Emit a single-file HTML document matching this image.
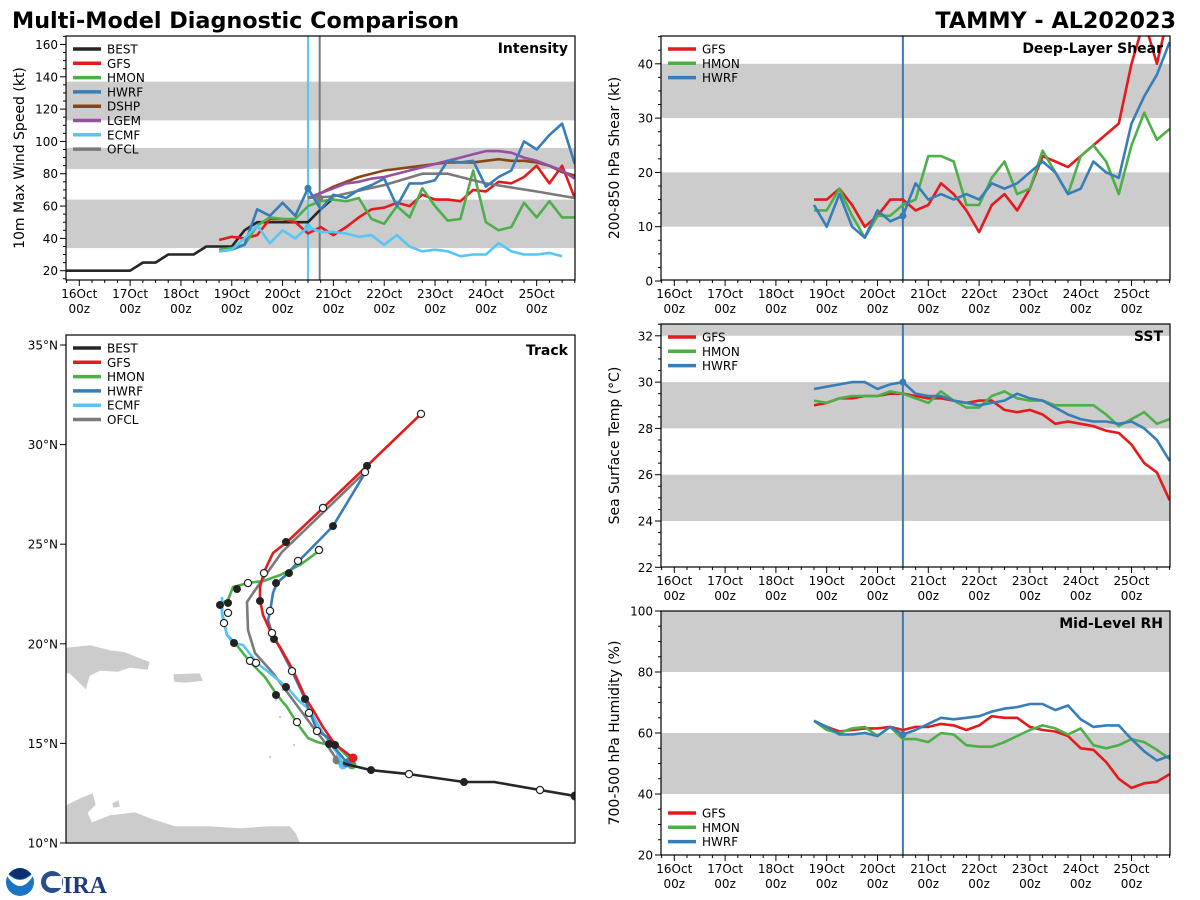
<!DOCTYPE html>
<html><head><meta charset="utf-8"><style>
html,body{margin:0;padding:0;background:#fff;}
svg{display:block;font-family:"DejaVu Sans","Liberation Sans",sans-serif;}
</style></head><body>
<svg id="fig" width="1200" height="900" viewBox="0 0 1200 900" xmlns="http://www.w3.org/2000/svg">
<text x="12" y="28" font-size="22.3" font-weight="bold">Multi-Model Diagnostic Comparison</text>
<text x="1176" y="28" font-size="22.3" font-weight="bold" text-anchor="end">TAMMY - AL202023</text>
<g>
<circle cx="20" cy="882" r="14" fill="#1a75c4"/>
<path d="M7,876 Q20,896 33,876 L33,873 Q20,887 7,873 Z" fill="#fff"/>
<path d="M9,874 Q20,862 31,874 Q20,884 9,874Z" fill="#0d2f6e"/>
<circle cx="52" cy="882" r="11" fill="#2a4f8a"/><circle cx="52" cy="882" r="6" fill="#fff"/><rect x="54" y="876" width="8" height="12" fill="#fff"/>
<text x="63" y="893" font-size="24" font-weight="bold" fill="#1d3a7a" font-family="Liberation Serif,serif">IRA</text>
</g>
</svg>
<script>
// ---------- data ----------
const intensityStart = 18.75, step = 0.25;
const bestStart = 15.75;
const bestVmax = [20,20,20,20,20,20,25,25,30,30,30,35,35,35,45,50,50,50,50,50,58,65];
const gfsVmax = [39,41,40,42,52,52,50,43,47,42,47,53,58,59,62,60,67,64,64,63,70,69,75,74,78,85,74,85,65];
const hmonVmax = [33,34,36,48,53,52,52,60,63,64,63,65,52,49,60,53,71,60,51,52,82,50,45,47,62,53,63,53,53];
const hwrfVmax = [32,33,36,58,54,62,54,71,58,67,65,70,73,77,60,74,74,76,88,87,88,72,78,82,100,95,104,111,86];
const ecmfVmax = [32,33,40,48,37,45,40,47,44,44,43,41,42,36,42,35,32,33,32,29,30,30,37,32,30,30,31,29];
const statStart = 20.5;
const dshpVmax = [65,68,72,75,78,80,82,83,84,85,86,87,87,87,88,89,88,88,87,85,81,79];
const lgemVmax = [65,68,71,74,75,77,78,80,82,84,86,88,90,92,94,94,93,90,88,85,82,77];
const ofclTimes = [20.5,21,22,22.75,23.25,24,25,25.75];
const ofclVmax = [65,66,73,80,80,74,69,65];

const gfsShear = [15,15,17,14,10,12,15,15,13,14,18,16,13,9,14,16,13,17,23,22,21,23,25,27,29,40,48,40,50];
const hmonShear = [13,13,17,12,8,12,12,14,15,23,23,22,14,14,19,22,16,17,24,20,16,23,25,22,16,25,31,26,28];
const hwrfShear = [14,10,16,10,8,13,11,12,18,15,16,15,16,15,18,17,18,20,22,20,16,17,22,20,19,29,34,38,44];

const gfsSst = [29.0,29.1,29.3,29.3,29.4,29.4,29.5,29.5,29.4,29.3,29.3,29.2,29.1,29.2,29.2,28.8,28.7,28.8,28.6,28.2,28.3,28.2,28.1,27.9,27.8,27.3,26.5,26.1,24.9];
const hmonSst = [29.2,29.1,29.3,29.4,29.4,29.4,29.6,29.5,29.3,29.1,29.6,29.2,28.9,28.9,29.4,29.6,29.3,29.2,29.2,29.0,29.0,29.0,29.0,28.6,28.1,28.4,28.7,28.2,28.4];
const hwrfSst = [29.7,29.8,29.9,30.0,30.0,29.7,29.9,30.0,29.5,29.4,29.4,29.2,29.1,29.0,29.1,29.2,29.5,29.3,29.2,28.9,28.6,28.4,28.3,28.3,28.2,28.3,28.0,27.5,26.6];

const gfsRh = [64,62,60.5,61,61.5,61.5,62,61,62,62,63,62.5,61,62.5,65.5,65,65,62,61,60.5,59,55,54.5,50.5,45,42,43.5,44,46.5];
const hmonRh = [64,61,60,61.5,62,59,62,58,58,57,60,59.5,56,55.5,55.5,57,59,61,62.5,61.5,59.5,61.5,56,55,56,58,57,54.5,51.5];
const hwrfRh = [64,62,59.5,59.5,60,59,62,59.5,61,63,65,64.5,65,65.5,67,68,68.5,69.5,69.5,67.5,69,64.5,62,62.5,62.5,58,54,51,52.5];

const bestLon = [-46.55,-48.3,-50.6,-52.1,-54.85,-56.75,-57.85,-58.15];
const bestLat = [12.36,12.66,13.06,13.06,13.46,13.66,13.92,14.02];
const gfsLon = [-57.65,-58.3,-58.7,-59.15,-59.65,-60.0,-60.65,-61.3,-61.6,-62.15,-62.3,-62.3,-62.1,-61.65,-60.95,-59.15,-56.95,-54.25];
const gfsLat = [14.27,14.77,15.17,15.82,16.68,17.23,18.68,19.84,20.24,21.45,22.2,22.85,23.6,24.56,25.11,26.82,28.93,31.54];
const hmonLon = [-57.7,-57.9,-58.4,-59.45,-59.9,-60.45,-60.95,-61.45,-62.05,-62.8,-63.55,-63.95,-64.2,-64.2,-63.9,-63.65,-62.9,-62.15,-61.3,-60.3,-59.35];
const hmonLat = [13.92,14.32,14.82,15.07,15.27,16.02,16.83,17.43,18.33,19.09,20.04,20.44,21.55,22.05,22.2,22.85,23.05,23.15,23.45,23.96,24.66];
const hwrfLon = [-57.95,-58.55,-58.95,-59.45,-59.8,-60.05,-60.7,-61.3,-61.7,-61.9,-61.8,-61.65,-61.45,-60.9,-60.4,-58.65,-57.95,-57.05];
const hwrfLat = [14.02,14.77,15.32,15.67,16.53,17.23,18.63,19.79,20.54,21.19,21.6,22.55,23.05,23.55,24.11,25.91,27.07,28.57];
const ecmfLon = [-58.15,-58.45,-59.15,-59.45,-59.8,-60.4,-60.95,-62.45,-63.15,-63.65,-63.95,-64.2,-64.2];
const ecmfLat = [13.92,14.52,15.52,16.02,16.68,17.18,17.83,19.04,19.94,20.04,20.44,21.45,22.35];
const ofclLon = [-58.45,-58.95,-59.65,-60.65,-61.65,-62.55,-62.9,-62.95,-62.3,-61.2,-57.05];
const ofclLat = [14.17,14.92,15.82,17.18,18.53,19.54,20.69,22.1,23.05,24.61,28.62];
const filledLon = [-56.95,-58.65,-61.0,-60.85,-61.5,-62.3,-63.45,-64.3,-63.9,-63.6,-61.6,-61.0,-61.5,-60.05,-58.85,-58.55,-52.1,-56.75];
const filledLat = [28.93,25.91,25.11,23.55,23.05,22.15,22.75,21.95,22.05,20.04,20.24,17.83,17.43,17.23,14.97,14.92,13.06,13.66];
const openLon = [-54.25,-57.05,-59.15,-59.35,-60.4,-62.1,-62.9,-61.8,-63.9,-64.1,-61.7,-60.7,-62.8,-62.5,-59.85,-60.45,-59.45,-54.85,-48.3];
const openLat = [31.54,28.62,26.82,24.71,24.16,23.55,23.05,21.65,21.55,21.04,20.54,18.63,19.14,19.04,16.53,16.07,15.62,13.46,12.66];
const latTicks = [35,30,25,20,15,10];
const dayLabels = ['16Oct','17Oct','18Oct','19Oct','20Oct','21Oct','22Oct','23Oct','24Oct','25Oct'];

// ---------- drawing ----------
const NS='http://www.w3.org/2000/svg';
const svg=document.getElementById('fig');
function el(tag,attrs,parent){const e=document.createElementNS(NS,tag);for(const k in attrs)e.setAttribute(k,attrs[k]);(parent||svg).appendChild(e);return e;}
const C={best:'#262626',gfs:'#e41a1c',hmon:'#4daf4a',hwrf:'#377eb8',dshp:'#8b4513',lgem:'#984ea3',ecmf:'#56c5f7',ofcl:'#7a7a7a'};
let clipN=0;

function makePanel(name,L,T,R,B,x16,dayW,yOf,vTop,vBot,bands,major,minor,ylabel,title){
  const g=el('g',{});
  
  
  const id='clip'+(clipN++);
  const cp=el('clipPath',{id:id},g);el('rect',{x:L,y:T,width:R-L,height:B-T},cp);
  const inner=el('g',{'clip-path':'url(#'+id+')'},g);
  bands.forEach(b=>{const r=el('rect',{x:L,y:yOf(b[1]),width:R-L,height:yOf(b[0])-yOf(b[1]),fill:'#cccccc'},inner);
    
    });
  const xOf=d=>x16+(d-16)*dayW;
  el('rect',{x:L,y:T,width:R-L,height:B-T,fill:'none',stroke:'#000','stroke-width':1.2},g);
  for(let d=15.75;d<=25.76;d+=0.25){const x=xOf(d);const isMaj=Math.abs(d-Math.round(d))<1e-6;
    el('line',{x1:x,y1:B,x2:x,y2:B+(isMaj?6:3),stroke:'#000','stroke-width':1},g);}
  dayLabels.forEach((lab,i)=>{const x=xOf(16+i);
    const t=el('text',{x:x,y:B+18,'font-size':12,'text-anchor':'middle'},g);t.textContent=lab;
    
    
    const t2=el('text',{x:x,y:B+33,'font-size':12,'text-anchor':'middle'},g);t2.textContent='00z';});
  for(let v=Math.ceil(vBot/minor)*minor;v<=vTop+1e-6;v+=minor){const y=yOf(v);const isMaj=Math.abs(v/major-Math.round(v/major))<1e-6;
    el('line',{x1:L,y1:y,x2:L-(isMaj?6:3),y2:y,stroke:'#000','stroke-width':1},g);
    if(isMaj){const t=el('text',{x:L-8,y:y+4.5,'font-size':12,'text-anchor':'end'},g);t.textContent=String(Math.round(v));
      
      }}
  const yl=el('text',{transform:'translate('+(L-42)+','+((T+B)/2)+') rotate(-90)','font-size':14,'text-anchor':'middle'},g);
  yl.textContent=ylabel;
  
  
  const tt=el('text',{x:R-7,y:T+17,'font-size':14,'font-weight':'bold','text-anchor':'end'},g);tt.textContent=title;
  
  
  return {g,inner,xOf,yOf};
}
function series(p,name,start,vals,color,times){
  const pts=vals.map((v,i)=>(p.xOf(times?times[i]:start+i*step)).toFixed(1)+','+p.yOf(v).toFixed(1));
  const pl=el('polyline',{points:pts.join(' '),fill:'none',stroke:color,'stroke-width':2.6,'stroke-linejoin':'round'},p.inner);
  
  
}
function vline(p,d,color,T,B){el('line',{x1:p.xOf(d),y1:T,x2:p.xOf(d),y2:B,stroke:color,'stroke-width':2},p.inner);}
function dot(p,d,v,color){const c=el('circle',{cx:p.xOf(d),cy:p.yOf(v),r:3.5,fill:color},p.inner);
  
  }
function legend(parent,x,y,items,gap){items.forEach((it,i)=>{const yy=y+i*gap;
  const g=el('g',{},parent);
  
  
  el('line',{x1:x,y1:yy,x2:x+28,y2:yy,stroke:it[1],'stroke-width':3.5},g);
  const t=el('text',{x:x+34,y:yy+4.5,'font-size':12},g);t.textContent=it[0];});}

const pI=makePanel('intensity-panel',66,36,575,280,79.3,50.82,v=>270.7-(v-20)*1.616,165,14,[[34,64],[83,96],[113,137]],20,5,'10m Max Wind Speed (kt)','Intensity');
vline(pI,20.5,C.ecmf,36,280);vline(pI,20.73,C.ofcl,36,280);
series(pI,'best-line',bestStart,bestVmax,C.best);
series(pI,'gfs-line',intensityStart,gfsVmax,C.gfs);
series(pI,'hmon-line',intensityStart,hmonVmax,C.hmon);
series(pI,'dshp-line',statStart,dshpVmax,C.dshp);
series(pI,'lgem-line',statStart,lgemVmax,C.lgem);
series(pI,'ofcl-line',0,ofclVmax,C.ofcl,ofclTimes);
series(pI,'hwrf-line',intensityStart,hwrfVmax,C.hwrf);
series(pI,'ecmf-line',intensityStart,ecmfVmax,C.ecmf);
dot(pI,20.5,ecmfVmax[7],C.ecmf);dot(pI,20.5,hwrfVmax[7],C.hwrf);dot(pI,20.73,ofclVmax[0],C.ofcl);
legend(pI.g,73,49,[['BEST',C.best],['GFS',C.gfs],['HMON',C.hmon],['HWRF',C.hwrf],['DSHP',C.dshp],['LGEM',C.lgem],['ECMF',C.ecmf],['OFCL',C.ofcl]],14.3);

const pS=makePanel('shear-panel',661,36,1170,280,674.3,50.8,v=>281-v*5.43,45,0,[[10,20],[30,40]],10,2.5,'200-850 hPa Shear (kt)','Deep-Layer Shear');
vline(pS,20.5,C.hwrf,36,280);
series(pS,'gfs-shear-line',intensityStart,gfsShear,C.gfs);
series(pS,'hmon-shear-line',intensityStart,hmonShear,C.hmon);
series(pS,'hwrf-shear-line',intensityStart,hwrfShear,C.hwrf);
dot(pS,20.5,hwrfShear[7],C.hwrf);
legend(pS.g,668,49,[['GFS',C.gfs],['HMON',C.hmon],['HWRF',C.hwrf]],14.3);

const pT=makePanel('sst-panel',661,324,1170,567,674.3,50.8,v=>567.3-(v-22)*23.15,32.5,22,[[24,26],[28,30],[32,40]],2,0.5,'Sea Surface Temp (°C)','SST');
vline(pT,20.5,C.hwrf,324,567);
series(pT,'gfs-sst-line',intensityStart,gfsSst,C.gfs);
series(pT,'hmon-sst-line',intensityStart,hmonSst,C.hmon);
series(pT,'hwrf-sst-line',intensityStart,hwrfSst,C.hwrf);
dot(pT,20.5,hwrfSst[7],C.hwrf);
legend(pT.g,668,337,[['GFS',C.gfs],['HMON',C.hmon],['HWRF',C.hwrf]],14.3);

const pR=makePanel('rh-panel',661,611,1170,855,674.3,50.8,v=>855-(v-20)*3.05,100,20,[[40,60],[80,100]],20,5,'700-500 hPa Humidity (%)','Mid-Level RH');
vline(pR,20.5,C.hwrf,611,855);
series(pR,'gfs-rh-line',intensityStart,gfsRh,C.gfs);
series(pR,'hmon-rh-line',intensityStart,hmonRh,C.hmon);
series(pR,'hwrf-rh-line',intensityStart,hwrfRh,C.hwrf);
dot(pR,20.5,hwrfRh[7],C.hwrf);
legend(pR.g,668,813,[['GFS',C.gfs],['HMON',C.hmon],['HWRF',C.hwrf]],14.3);

const tL=66,tT=335,tR=575,tB=843;
const lonX=lon=>66+(lon+72)*20, latY=lat=>345+(35-lat)*19.92;
const tg=el('g',{});


const tcp=el('clipPath',{id:'tclip'},tg);el('rect',{x:tL,y:tT,width:tR-tL,height:tB-tT},tcp);
const ti=el('g',{'clip-path':'url(#tclip)'},tg);
const land=el('g',{fill:'#cccccc',stroke:'#fff','stroke-width':0.6},ti);


el('path',{d:'M60,648 L90,645 L110,650 L125,652 L135,656 L150,662 L148,670 L130,668 L118,672 L100,671 L90,676 L86,690 L78,682 L70,674 L60,672Z'},land);
el('path',{d:'M173,674 L200,673 L203,681 L185,683 L174,682Z'},land);
el('path',{d:'M60,808 L80,798 L93,793 L96,805 L88,813 L92,822 L110,815 L135,812 L150,818 L175,826 L210,826 L240,828 L268,826 L290,826 L296,833 L300,843 L60,843Z'},land);
el('path',{d:'M112,803 L119,800 L120,807 L113,808Z'},land);
[[280,717],[294,745],[283,690],[270,757],[276,700]].forEach(p=>el('circle',{cx:p[0],cy:p[1],r:1.5},land));
el('rect',{x:tL,y:tT,width:tR-tL,height:tB-tT,fill:'none',stroke:'#000','stroke-width':1.2},tg);
latTicks.forEach(lat=>{const y=latY(lat);el('line',{x1:tL,y1:y,x2:tL-6,y2:y,stroke:'#000'},tg);
  const t=el('text',{x:tL-8,y:y+4.5,'font-size':12,'text-anchor':'end'},tg);t.textContent=lat+'°N';
  
  });
function track(name,lons,lats,color){const pts=lons.map((lo,i)=>lonX(lo).toFixed(1)+','+latY(lats[i]).toFixed(1));
  const pl=el('polyline',{points:pts.join(' '),fill:'none',stroke:color,'stroke-width':2.6,'stroke-linejoin':'round'},ti);
  
  
  const s=el('circle',{cx:lonX(lons[0]),cy:latY(lats[0]),r:4.5,fill:color},ti);
  
  }
track('ofcl-track',ofclLon,ofclLat,C.ofcl);
track('hmon-track',hmonLon,hmonLat,C.hmon);
track('ecmf-track',ecmfLon,ecmfLat,C.ecmf);
track('hwrf-track',hwrfLon,hwrfLat,C.hwrf);
track('gfs-track',gfsLon,gfsLat,C.gfs);
track('best-track',bestLon,bestLat,C.best);
filledLon.forEach((lo,i)=>{const c=el('circle',{cx:lonX(lo),cy:latY(filledLat[i]),r:4,fill:'#222'},ti);
  
  });
openLon.forEach((lo,i)=>{const c=el('circle',{cx:lonX(lo),cy:latY(openLat[i]),r:3.6,fill:'#fff',stroke:'#222','stroke-width':1.2},ti);
  
  });
const tt=el('text',{x:tR-7,y:tT+20,'font-size':14,'font-weight':'bold','text-anchor':'end'},tg);tt.textContent='Track';


legend(tg,73,348,[['BEST',C.best],['GFS',C.gfs],['HMON',C.hmon],['HWRF',C.hwrf],['ECMF',C.ecmf],['OFCL',C.ofcl]],14.3);
</script>
</body></html>
